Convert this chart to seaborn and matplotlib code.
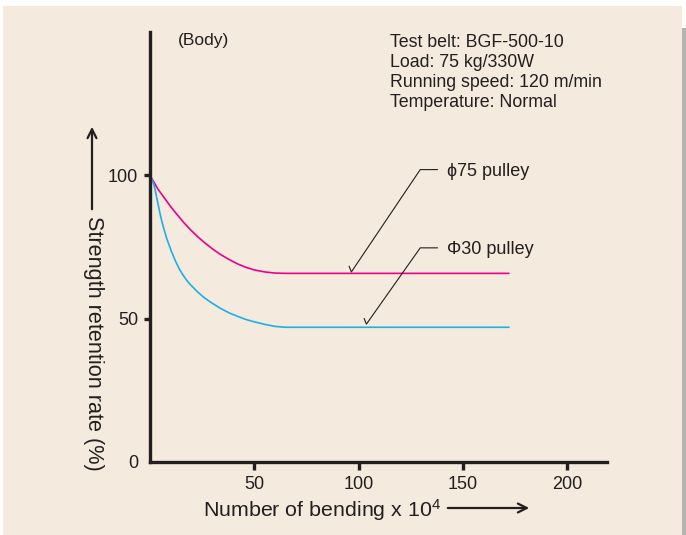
import numpy as np
import pandas as pd
import matplotlib
matplotlib.use('Agg')
import matplotlib.pyplot as plt
from matplotlib.patches import Rectangle
import seaborn as sns

# values
bending = [0, 1, 2, 3, 4, 5, 6, 8, 10, 12, 14, 16, 18, 20, 23, 26, 30,
           34, 38, 42, 46, 50, 55, 60, 65, 172]
phi75 = [100, 98.7, 97.5, 96.2, 95, 94, 93, 91, 89, 87.2, 85.4, 83.7, 82.1, 80.6,
         78.5, 76.6, 74.3, 72.3, 70.6, 69.1, 67.9, 67, 66.3, 65.9, 65.8, 65.8]
phi30 = [100, 98.5, 96.5, 93, 89.5, 86, 83, 78, 74, 70.4, 67.4, 65, 63, 61.4,
         59.2, 57.3, 55.3, 53.5, 52, 50.8, 49.7, 48.9, 48, 47.3, 47, 47]
series_names = ['ϕ75 pulley', 'Φ30 pulley']
x_ticks = [50, 100, 150, 200]
y_ticks = [0, 50, 100]
conditions = ['Test belt: BGF-500-10', 'Load: 75 kg/330W',
              'Running speed: 120 m/min', 'Temperature: Normal']

df = pd.DataFrame({
    'bending': bending * 2,
    'rate': phi75 + phi30,
    'pulley': [series_names[0]] * len(bending) + [series_names[1]] * len(bending),
})

sns.set_style('ticks')
plt.rcParams['font.family'] = ['Liberation Sans', 'DejaVu Sans']
plt.rcParams['mathtext.default'] = 'regular'

ink = '#231f20'
beige = '#f4eadd'
W, H = 686, 535

fig = plt.figure(figsize=(W / 100, H / 100), dpi=100, facecolor='white')
# beige panel with a grey shadow on the right (behind everything)
fig.patches.append(Rectangle((3 / W, 0), 679 / W, 1 - 6 / H, transform=fig.transFigure,
                             facecolor=beige, edgecolor='none', zorder=-5))
fig.patches.append(Rectangle((682 / W, 0), 4 / W, 1 - 28 / H, transform=fig.transFigure,
                             facecolor='#b4b4b4', edgecolor='none', zorder=-5))

ax = fig.add_axes([150 / W, 1 - 462 / H, (607 - 150) / W, (462 - 32) / H])
ax.set_facecolor('none')

sns.lineplot(data=df, x='bending', y='rate', hue='pulley',
             palette=['#ec008c', '#1cb0e6'], linewidth=1.2, legend=False, ax=ax)

ax.set_xlim(0, 219)
ax.set_ylim(0, 150)
ax.set_xticks(x_ticks)
ax.set_yticks(y_ticks)
ax.set_xlabel('')
ax.set_ylabel('')
sns.despine(ax=ax)
for s in ['left', 'bottom']:
    ax.spines[s].set_linewidth(2.4)
    ax.spines[s].set_color(ink)
ax.tick_params(axis='x', length=6, width=2.4, color=ink, labelsize=13, labelcolor=ink, pad=4)
ax.tick_params(axis='y', length=4, width=2.4, color=ink, labelsize=13, labelcolor=ink, pad=4.5)
ax.yaxis.get_major_ticks()[0].tick1line.set_visible(False)

# leader lines to the curves
for name, tip, corner in [(series_names[0], (96.5, 66.3), (129.5, 102)),
                          (series_names[1], (103.7, 48.1), (129.5, 74.7))]:
    xs = [tip[0] - 1.1, tip[0], corner[0], corner[0] + 8.3]
    ys = [tip[1] + 2.0, tip[1], corner[1], corner[1]]
    ax.plot(xs, ys, color=ink, lw=0.8)
    ax.text(corner[0] + 13, corner[1] - 0.7, name, fontsize=13, color=ink,
            va='center', ha='left')

fig.text(178 / W, 1 - 40 / H, '(Body)', fontsize=12.5, color=ink, va='center', ha='left')
fig.text(390 / W, 1 - 34 / H, '\n'.join(conditions), fontsize=12.8, color=ink,
         va='top', ha='left', linespacing=1.22)

# axis titles with arrows
fig.text(93 / W, 1 - 216 / H, 'Strength retention rate (%)', rotation=270,
         fontsize=15.6, color=ink, va='top', ha='center')
ax.annotate('', xy=(92 / W, 1 - 124 / H), xytext=(92 / W, 1 - 212 / H),
            xycoords='figure fraction', textcoords='figure fraction',
            arrowprops=dict(arrowstyle='->', lw=1.6, color=ink, mutation_scale=16),
            annotation_clip=False)
fig.text(203 / W, 1 - 510 / H, 'Number of bending x 10$^{4}$', fontsize=15.4,
         color=ink, va='center', ha='left')
ax.annotate('', xy=(532 / W, 1 - 508 / H), xytext=(445 / W, 1 - 508 / H),
            xycoords='figure fraction', textcoords='figure fraction',
            arrowprops=dict(arrowstyle='->', lw=1.6, color=ink, mutation_scale=16),
            annotation_clip=False)

fig.savefig('out.png', dpi=100, facecolor='white')
